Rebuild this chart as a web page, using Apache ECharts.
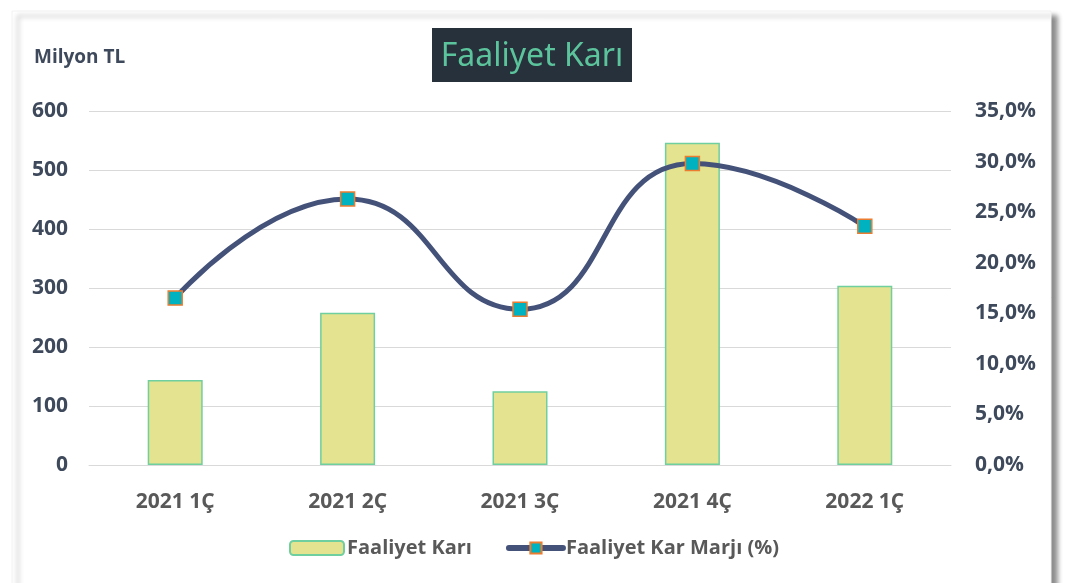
<!DOCTYPE html>
<html><head><meta charset="utf-8">
<script src="https://cdn.jsdelivr.net/npm/echarts@6/dist/echarts.min.js"></script>
<style>html,body{margin:0;padding:0;background:#fff}#c{width:1068px;height:583px}</style>
</head><body><div id="c"></div>
<script>
const categories = ['2021 1Ç', '2021 2Ç', '2021 3Ç', '2021 4Ç', '2022 1Ç'];
const faaliyetKari = [144, 258, 125, 546, 304];
const karMarji = [0.165, 0.263, 0.154, 0.298, 0.236];
const leftTicks = { min: 0, max: 600, interval: 100 };
const rightTicks = { min: 0, max: 0.35, interval: 0.05 };

const chart = echarts.init(document.getElementById('c'), null, { renderer: 'canvas' });
const font = '"Open Sans", "Noto Sans", sans-serif';
chart.setOption({
  animation: false,
  backgroundColor: '#ffffff',
  grid: { left: 89, right: 117, top: 111, bottom: 118, containLabel: false },
  graphic: [
    { type: 'rect', z: -10, shape: { x: 12, y: 11, width: 1039, height: 590 },
      style: { fill: '#fff', stroke: '#f2f2f2', lineWidth: 1, shadowBlur: 5, shadowOffsetX: 6, shadowOffsetY: 5, shadowColor: 'rgba(0,0,0,0.45)' } },
    { type: 'rect', shape: { x: 432, y: 28, width: 200, height: 54 }, style: { fill: '#27313b' } },
    { type: 'text', x: 532, y: 57, style: { text: 'Faaliyet Karı', fill: '#5cc49c', font: '32px "Noto Sans", sans-serif', textAlign: 'center', textVerticalAlign: 'middle' } },
    { type: 'text', x: 34, y: 58, style: { text: 'Milyon TL', fill: '#3e4a5c', font: 'bold 19px ' + font, textAlign: 'left', textVerticalAlign: 'middle' } }
  ],
  legend: {
    bottom: 20, left: 'center', itemGap: 34, itemWidth: 54, itemHeight: 14,
    textStyle: { fontFamily: font, fontSize: 20, fontWeight: 'bold', color: '#595959', padding: [0, 0, 0, -2] },
    data: [
      { name: 'Faaliyet Karı' },
      { name: 'Faaliyet Kar Marjı (%)', lineStyle: { width: 6, cap: 'round' } }
    ]
  },
  xAxis: {
    type: 'category', data: categories,
    axisLine: { lineStyle: { color: '#d9d9d9', width: 1 } },
    axisTick: { show: false },
    axisLabel: { margin: 27, fontFamily: font, fontSize: 21, fontWeight: 'bold', color: '#595959' }
  },
  yAxis: [
    { type: 'value', min: leftTicks.min, max: leftTicks.max, interval: leftTicks.interval,
      axisLine: { show: false }, axisTick: { show: false },
      splitLine: { lineStyle: { color: '#d9d9d9', width: 1 } },
      axisLabel: { margin: 21, fontFamily: font, fontSize: 21, fontWeight: 'bold', color: '#3e4a5c' } },
    { type: 'value', min: rightTicks.min, max: rightTicks.max, interval: rightTicks.interval,
      axisLine: { show: false }, axisTick: { show: false }, splitLine: { show: false },
      axisLabel: { margin: 24, fontFamily: font, fontSize: 21, fontWeight: 'bold', color: '#3e4a5c',
        formatter: v => (v * 100).toFixed(1).replace('.', ',') + '%' } }
  ],
  series: [
    { name: 'Faaliyet Karı', type: 'bar', data: faaliyetKari, barWidth: 55,
      itemStyle: { color: '#e4e38f', borderColor: '#6fcf9f', borderWidth: 1.5 } },
    { name: 'Faaliyet Kar Marjı (%)', type: 'line', yAxisIndex: 1, data: karMarji, smooth: 0.5,
      symbol: 'rect', symbolSize: 14,
      lineStyle: { color: '#44527a', width: 5 },
      itemStyle: { color: '#00b2bf', borderColor: '#ec7c30', borderWidth: 1.5 } }
  ]
});
</script></body></html>
